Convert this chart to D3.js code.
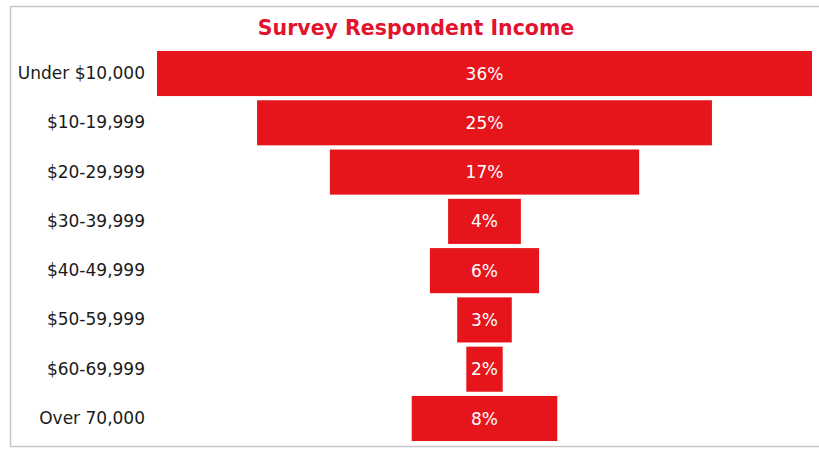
<!DOCTYPE html>
<html>
<head>
<meta charset="utf-8">
<script src="https://cdn.jsdelivr.net/npm/d3@7"></script>
<style>
  html, body { margin: 0; padding: 0; background: #fff; }
  svg { display: block; }
</style>
</head>
<body>
<svg id="chart" width="819" height="449"></svg>
<script>
// Income brackets and share of respondents (%)
const categories = ["Under $10,000", "$10-19,999", "$20-29,999", "$30-39,999",
                    "$40-49,999", "$50-59,999", "$60-69,999", "Over 70,000"];
const shares = [36, 25, 17, 4, 6, 3, 2, 8];
const title = "Survey Respondent Income";

const svg = d3.select("#chart");
const W = 819, H = 449;

// outer frame
svg.append("rect")
  .attr("x", 10.5).attr("y", 6.5)
  .attr("width", W + 10).attr("height", H - 9)
  .attr("fill", "#fff").attr("stroke", "#c8c8c8").attr("stroke-width", 1.5);

const centerX = 484.5;
const plotTop = 49, plotBottom = 443;

const y = d3.scaleBand()
  .domain(categories)
  .range([plotTop, plotBottom])
  .paddingInner(0.085)
  .paddingOuter(0.04);

// full width of the widest bar, split evenly either side of the centre line
const w = d3.scaleLinear()
  .domain([0, d3.max(shares)])
  .range([0, 655]);

const data = categories.map((c, i) => ({ cat: c, v: shares[i] }));

svg.append("g").selectAll("rect")
  .data(data)
  .join("rect")
  .attr("x", d => centerX - w(d.v) / 2)
  .attr("y", d => y(d.cat))
  .attr("width", d => w(d.v))
  .attr("height", y.bandwidth())
  .attr("fill", "#e6151c");

svg.append("g").selectAll("text")
  .data(data)
  .join("text")
  .attr("x", centerX)
  .attr("y", d => y(d.cat) + y.bandwidth() / 2)
  .attr("dy", "0.36em")
  .attr("text-anchor", "middle")
  .attr("font-family", "'DejaVu Sans', Verdana, sans-serif")
  .attr("font-size", 17)
  .attr("fill", "#fff")
  .text(d => d.v + "%");

// category axis on the left
const axis = d3.axisLeft(y).tickSize(0).tickPadding(0);
const gAxis = svg.append("g")
  .attr("transform", "translate(145,0)")
  .call(axis);
gAxis.select(".domain").remove();
gAxis.selectAll("text")
  .attr("font-family", "'DejaVu Sans', Verdana, sans-serif")
  .attr("font-size", 17)
  .attr("fill", "#1a1a1a");

svg.append("text")
  .attr("x", 416)
  .attr("y", 35)
  .attr("text-anchor", "middle")
  .attr("font-family", "'DejaVu Sans', Verdana, sans-serif")
  .attr("font-weight", "bold")
  .attr("font-size", 20.5)
  .attr("fill", "#e2132d")
  .text(title);
</script>
</body>
</html>
